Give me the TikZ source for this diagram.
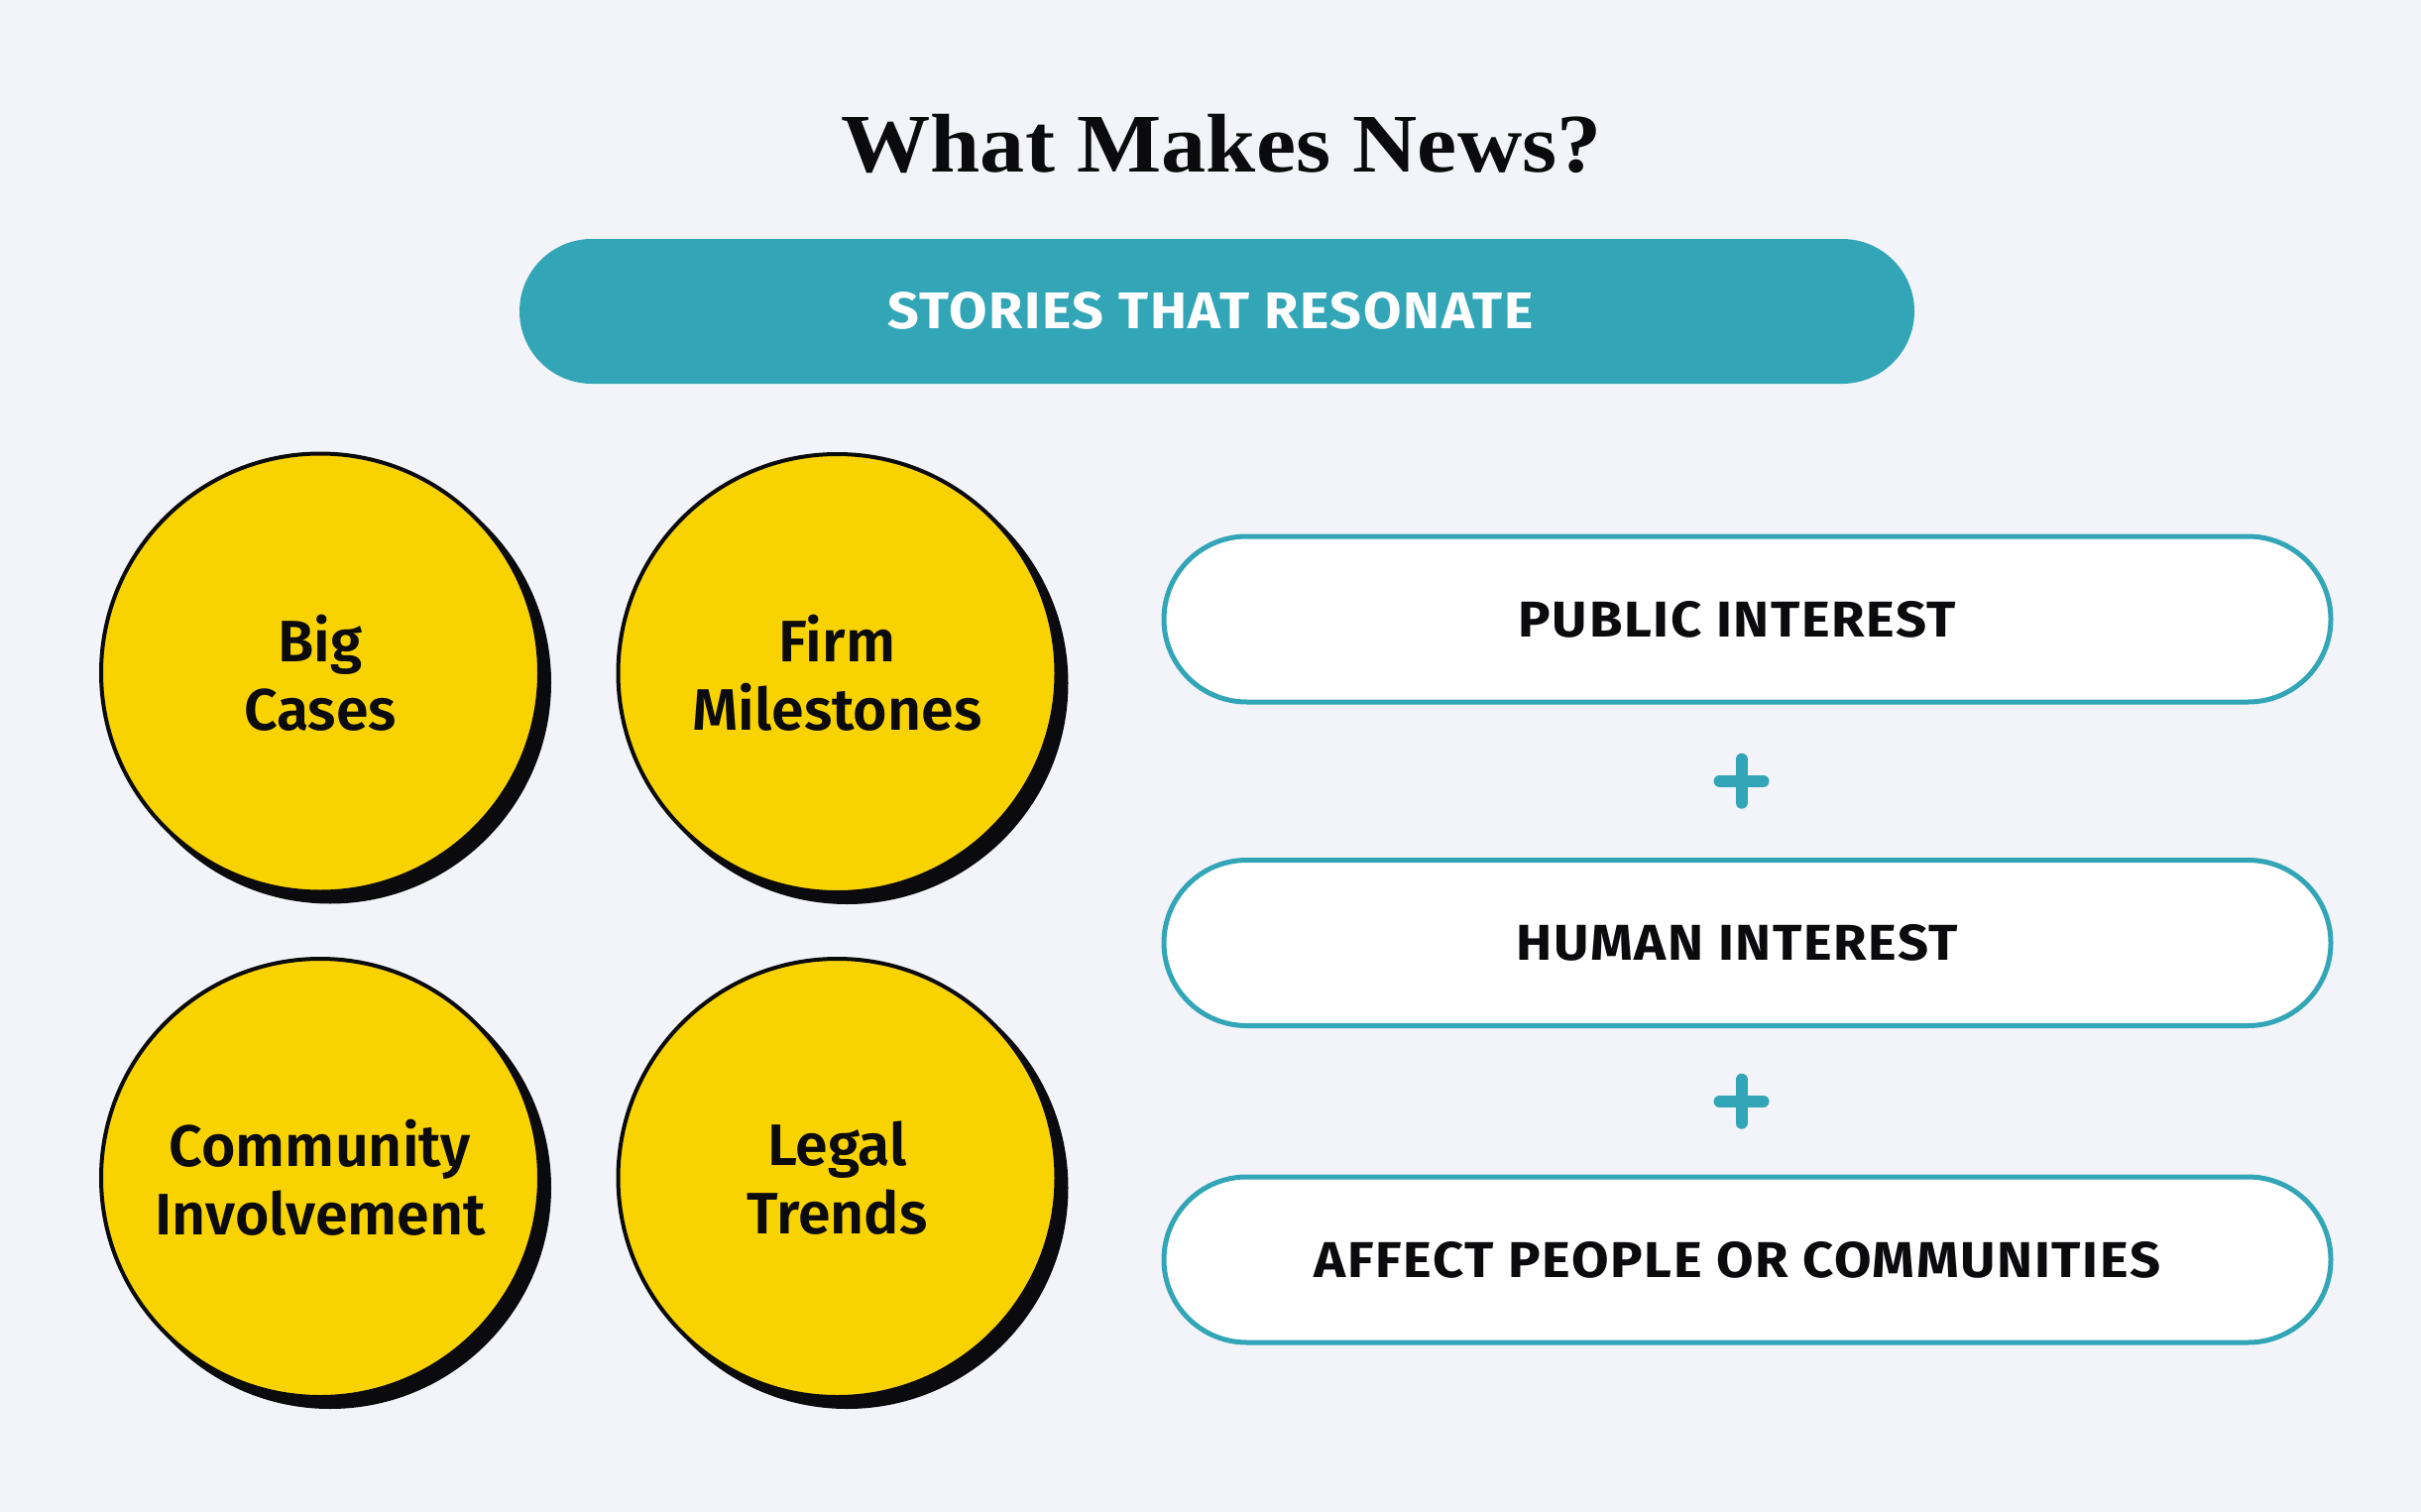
\documentclass[tikz,border=0pt]{standalone}
\usepackage{fontspec}
\setmainfont{Fira Sans}
\newfontfamily\titlefont{Liberation Serif}
\IfFontExistsTF{Fira Sans SemiBold}{\newfontfamily\circfont{Fira Sans SemiBold}}{\def\circfont{\bfseries}}
\usetikzlibrary{shapes.misc,calc}
\definecolor{bg}{HTML}{F2F4F9}
\definecolor{tealc}{HTML}{32A5B7}
\definecolor{yel}{HTML}{F9D300}
\definecolor{ink}{HTML}{0B0B0D}
\newcommand{\widetext}[1]{\scalebox{1.07}[1]{#1}}
\begin{document}
\begin{tikzpicture}[x=0.5pt,y=-0.5pt,
  bubble/.style={circle, draw=ink, line width=2pt, fill=yel, minimum size=221pt, inner sep=0pt, align=center, text=ink, font=\circfont\fontsize{29.5pt}{34.5pt}\selectfont},
  bubbleshadow/.style={fill=ink},
  pill/.style={rounded rectangle, draw=tealc, line width=2.5pt, fill=white, minimum width=588.5pt, minimum height=83.5pt, inner sep=0pt},
  pilltext/.style={font=\bfseries\fontsize{25.4pt}{30pt}\selectfont\addfontfeature{LetterSpace=3}, text=ink, inner sep=0pt},
  banner/.style={rounded rectangle, fill=tealc, minimum width=703.5pt, minimum height=73pt, inner sep=0pt},
  bannertext/.style={font=\bfseries\fontsize{26pt}{30pt}\selectfont\addfontfeature{LetterSpace=3}, text=white, inner sep=0pt},
  plusline/.style={draw=tealc, line width=6pt, line cap=round}
]
\fill[bg] (0,0) rectangle (2442,1525);
\useasboundingbox (0,0) rectangle (2442,1525);

% title
\node[font=\titlefont\bfseries\fontsize{42pt}{48pt}\selectfont, text=ink, anchor=base, inner sep=0pt] (title) at (1232,173) {\scalebox{1.074}[1]{What Makes News?}};

% banner
\node[banner] (banner) at (1227.5,314) {};
\node[bannertext] (bannertxt) at (1221,313) {\widetext{STORIES THAT RESONATE}};

% circles
\coordinate (c1pos) at (323,678.5);
\coordinate (c2pos) at (844.5,679);
\coordinate (c3pos) at (323,1188);
\coordinate (c4pos) at (844.5,1188);
\foreach \c in {c1pos,c2pos,c3pos,c4pos}
  \fill[bubbleshadow] ($(\c)+(10,10)$) circle[radius=111.5pt];
\node[bubble] (c1) at (c1pos) {Big\\Cases};
\node[bubble] (c2) at (c2pos) {Firm\\Milestones};
\node[bubble] (c3) at (c3pos) {Community\\Involvement};
\node[bubble] (c4) at (c4pos) {Legal\\Trends};

% pills
\node[pill] (p1) at (1762.5,624.5) {};
\node[pill] (p2) at (1762.5,951) {};
\node[pill] (p3) at (1762.5,1270.5) {};
\node[pilltext] (p1t) at ($(p1)+(-10,0)$) {\widetext{PUBLIC INTEREST}};
\node[pilltext] (p2t) at ($(p2)+(-10,0)$) {\widetext{HUMAN INTEREST}};
\node[pilltext] (p3t) at ($(p3)+(-10,0)$) {\widetext{AFFECT PEOPLE OR COMMUNITIES}};

% plus signs
\coordinate (plus1) at ($($(p1)!0.5!(p2)$)+(-6,0)$);
\coordinate (plus2) at ($($(p2)!0.5!(p3)$)+(-6,0)$);
\foreach \p in {plus1,plus2}
  \draw[plusline] ($(\p)+(-22,0)$) -- ($(\p)+(22,0)$) ($(\p)+(0,-22)$) -- ($(\p)+(0,22)$);
\end{tikzpicture}
\end{document}
